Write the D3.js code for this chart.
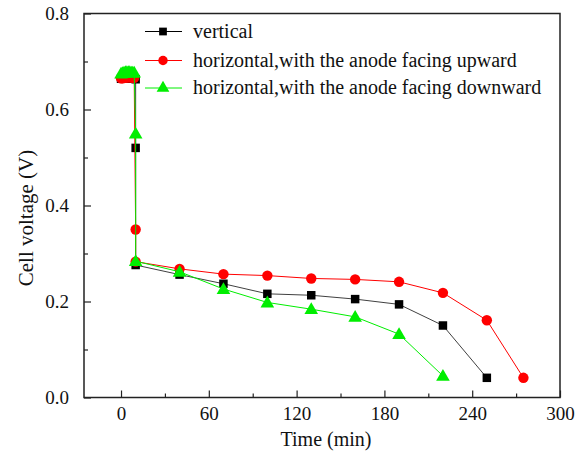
<!DOCTYPE html>
<html>
<head>
<meta charset="utf-8">
<script src="https://cdn.jsdelivr.net/npm/d3@7/dist/d3.min.js"></script>
<style>
  body { margin: 0; background: #fff; }
  text { font-family: "Liberation Serif", "Times New Roman", serif; fill: #111; }
</style>
</head>
<body>
<svg id="chart" width="580" height="454"></svg>
<script>
// data
var seriesNames = ["vertical", "horizontal,with the anode facing upward", "horizontal,with the anode facing downward"];
var seriesColors = ["#000000", "#ff0000", "#00ee00"];
var seriesSymbols = [d3.symbolSquare, d3.symbolCircle, d3.symbolTriangle];

var timeVertical = [0, 1, 2, 3, 4, 5, 6, 7, 8, 9, 10, 10, 10, 40, 70, 100, 130, 160, 190, 220, 250];
var voltVertical = [0.664, 0.664, 0.665, 0.665, 0.665, 0.665, 0.665, 0.664, 0.664, 0.664, 0.663, 0.52, 0.276, 0.256, 0.237, 0.216, 0.213, 0.205, 0.194, 0.150, 0.041];

var timeUp = [0, 1, 2, 3, 4, 5, 6, 7, 8, 9, 10, 10, 40, 70, 100, 130, 160, 190, 220, 250, 275];
var voltUp = [0.665, 0.665, 0.666, 0.666, 0.667, 0.667, 0.667, 0.667, 0.666, 0.666, 0.35, 0.283, 0.268, 0.257, 0.254, 0.248, 0.246, 0.241, 0.218, 0.161, 0.041];

var timeDown = [0, 1, 2, 3, 4, 5, 6, 7, 8, 9, 10, 10, 40, 70, 100, 130, 160, 190, 220];
var voltDown = [0.675, 0.676, 0.677, 0.678, 0.678, 0.678, 0.678, 0.677, 0.677, 0.677, 0.55, 0.284, 0.262, 0.226, 0.198, 0.184, 0.168, 0.132, 0.045];

var xTicks = [0, 60, 120, 180, 240, 300];
var xMinor = [30, 90, 150, 210, 270];
var yTicks = [0.0, 0.2, 0.4, 0.6, 0.8];
var yMinor = [0.1, 0.3, 0.5, 0.7];

var series = [
  { name: seriesNames[0], t: timeVertical, v: voltVertical },
  { name: seriesNames[1], t: timeUp, v: voltUp },
  { name: seriesNames[2], t: timeDown, v: voltDown }
];

var plotL = 84, plotR = 560, plotT = 13.5, plotB = 397.5;
var svg = d3.select("#chart");

var x = d3.scaleLinear().domain([-25.3, 300]).range([plotL, plotR]);
var y = d3.scaleLinear().domain([0, 0.8]).range([plotB, plotT]);

// lines and markers
series.forEach(function(s, i) {
  var pts = s.t.map(function(t, j) { return [t, s.v[j]]; });
  var line = d3.line().x(function(d) { return x(d[0]); }).y(function(d) { return y(d[1]); });
  svg.append("path")
    .attr("d", line(pts))
    .attr("fill", "none")
    .attr("stroke", seriesColors[i])
    .attr("stroke-opacity", i == 0 ? 0.75 : 1)
    .attr("stroke-width", 1);

  var size = i == 0 ? 72 : (i == 1 ? 85 : 80);
  svg.append("g").selectAll("path")
    .data(pts)
    .enter().append("path")
      .attr("d", d3.symbol().type(seriesSymbols[i]).size(size))
      .attr("transform", function(d) { return "translate(" + x(d[0]) + "," + (y(d[1]) + (i == 2 ? 1 : 0)) + ")"; })
      .attr("fill", seriesColors[i]);
});

// axes: ticks inside
var xAxis = d3.axisBottom(x).tickValues(xTicks).tickSize(-7).tickPadding(9).tickFormat(d3.format("d"));
svg.append("g").attr("transform", "translate(0," + plotB + ")").call(xAxis);
var xAxisMinor = d3.axisBottom(x).tickValues(xMinor).tickSize(-4).tickFormat("");
svg.append("g").attr("transform", "translate(0," + plotB + ")").call(xAxisMinor);

var yAxis = d3.axisLeft(y).tickValues(yTicks).tickSize(-7).tickPadding(15).tickFormat(d3.format(".1f"));
svg.append("g").attr("transform", "translate(" + plotL + ",0)").call(yAxis);
var yAxisMinor = d3.axisLeft(y).tickValues(yMinor).tickSize(-4).tickFormat("");
svg.append("g").attr("transform", "translate(" + plotL + ",0)").call(yAxisMinor);

svg.selectAll(".tick line").attr("stroke", "#222").attr("stroke-width", 1.2);
svg.selectAll(".domain").remove();
svg.selectAll(".tick text").style("font-size", "19px").attr("fill", "#222");

// frame
svg.append("rect")
  .attr("x", plotL).attr("y", plotT)
  .attr("width", plotR - plotL).attr("height", plotB - plotT)
  .attr("fill", "none").attr("stroke", "#222").attr("stroke-width", 1.5);

// axis titles
svg.append("text")
  .attr("x", 326).attr("y", 446)
  .attr("text-anchor", "middle")
  .style("font-size", "20px")
  .text("Time (min)");

svg.append("text")
  .attr("transform", "translate(33,218) rotate(-90)")
  .attr("text-anchor", "middle")
  .style("font-size", "21px")
  .text("Cell voltage (V)");

// legend
var legend = svg.append("g");
series.forEach(function(s, i) {
  var ly = [31.5, 60.5, 88][i];
  legend.append("line")
    .attr("x1", 145).attr("x2", 182).attr("y1", ly).attr("y2", ly)
    .attr("stroke", seriesColors[i]).attr("stroke-width", 1);
  legend.append("path")
    .attr("d", d3.symbol().type(seriesSymbols[i]).size(i == 0 ? 60 : 70))
    .attr("transform", "translate(163," + ly + ")")
    .attr("fill", seriesColors[i]);
  legend.append("text")
    .attr("x", 193).attr("y", ly + 6)
    .style("font-size", "20px")
    .text(s.name);
});
</script>
</body>
</html>
